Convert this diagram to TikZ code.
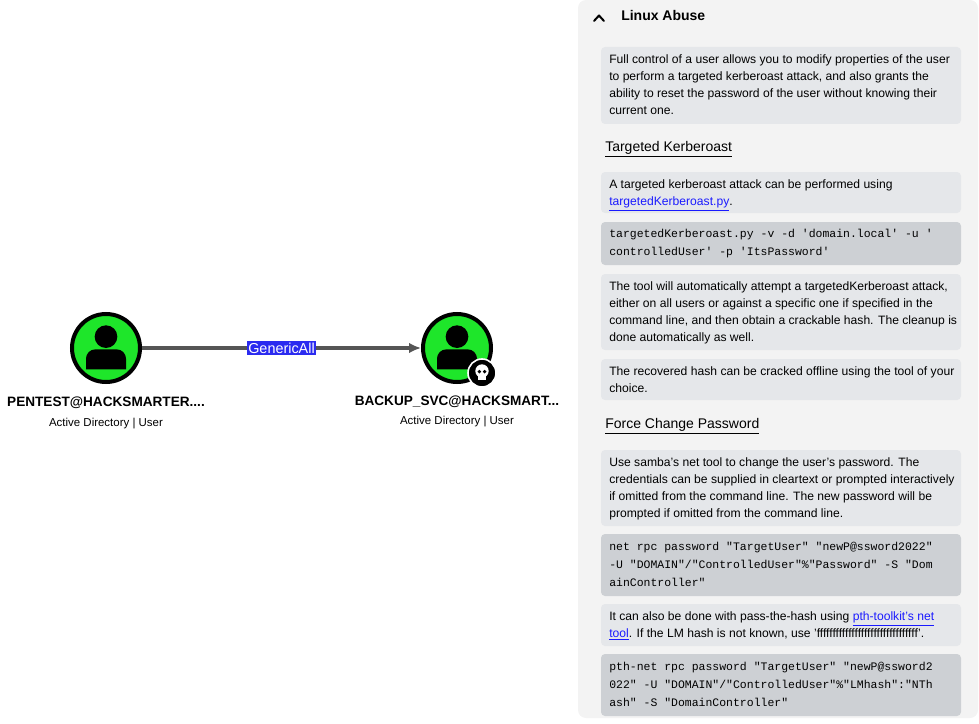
\documentclass[tikz,border=0pt]{standalone}
\usepackage{fontspec}
\setmainfont{Liberation Sans}
\setmonofont{Liberation Mono}
\usetikzlibrary{arrows.meta, positioning}
\definecolor{usergreen}{HTML}{1EE62A}
\definecolor{edgegray}{HTML}{555555}
\definecolor{labelblue}{HTML}{2B2BF0}
\definecolor{panelbg}{HTML}{F3F3F3}
\definecolor{textbg}{HTML}{E5E7EA}
\definecolor{codebg}{HTML}{CDD0D4}
\definecolor{linkblue}{HTML}{1A1AFF}
\newcommand{\weblink}[1]{\textcolor{linkblue}{\underline{#1}}}
\begin{document}
\begin{tikzpicture}[
    x=0.75pt, y=-0.75pt,
    >=Latex,
    user/.style={
      circle,
      draw=black,
      line width=3pt,
      fill=usergreen,
      minimum size=51pt,
      inner sep=0pt
    },
    badge/.style={
      circle,
      draw=white,
      line width=1.2pt,
      fill=black,
      minimum size=21pt,
      inner sep=0pt
    },
    username/.style={font=\fontsize{10.2}{12}\selectfont\bfseries},
    usertype/.style={font=\fontsize{8.6}{10}\selectfont},
    textbox/.style={fill=textbg, rounded corners=3pt},
    codebox/.style={fill=codebg, rounded corners=3pt},
    % base anchor sits on the last line
    para/.style={anchor=base west, align=left, inner sep=0pt,
      font=\fontsize{9.1}{12.75}\selectfont},
    code/.style={anchor=base west, align=left, inner sep=0pt,
      font=\fontsize{8.6}{13.5}\selectfont\ttfamily},
    heading/.style={anchor=base west, inner sep=0pt,
      font=\fontsize{10.5}{12}\selectfont}
]
\useasboundingbox (0,0) rectangle (979,724);

% graph
\node[user] (pentest) at (106,348) {};
\node[user] (backup) at (457,348) {};
\foreach \u in {pentest, backup} {
  \fill[black] ([yshift=8.5pt]\u.center) circle (8.5pt);
  \fill[black] ([xshift=-15pt,yshift=-16pt]\u.center) -- ([xshift=-15pt,yshift=-8pt]\u.center)
    arc[start angle=180, end angle=90, radius=7pt] -- ++(16pt,0)
    arc[start angle=90, end angle=0, radius=7pt] -- ([xshift=15pt,yshift=-16pt]\u.center) -- cycle;
}
\node[badge] (skull) at (482,373) {};
\fill[white] ([yshift=1.5pt]skull.center) circle (5pt);
\fill[white] ([xshift=-3pt,yshift=-5.5pt]skull.center) rectangle ([xshift=3pt,yshift=-1pt]skull.center);
\fill[black] ([xshift=-2pt,yshift=1pt]skull.center) circle (1.4pt);
\fill[black] ([xshift=2pt,yshift=1pt]skull.center) circle (1.4pt);

\node[username, below=6pt of pentest] (pentestname) {PENTEST@HACKSMARTER....};
\node[usertype, below=0pt of pentestname] (pentesttype) {Active Directory | User};
\node[username, below=5pt of backup] (backupname) {BACKUP\_SVC@HACKSMART...};
\node[usertype, below=0pt of backupname] (backuptype) {Active Directory | User};

\draw[-{Latex[length=9pt,width=8pt]}, edgegray, line width=2.3pt] (pentest) -- node[fill=labelblue, text=white,
  inner sep=1pt, font=\fontsize{10.8}{12}\selectfont] (edgelabel) {GenericAll} (backup);

% side panel
\fill[panelbg, rounded corners=6pt] (578,0) rectangle (978,718);
\draw[line width=1.5pt, line cap=round, line join=round] (594,21) -- (599,15.5) -- (604,21);
\node[heading, font=\fontsize{10.5}{12}\selectfont\bfseries] (title) at (621,21) {Linux Abuse};

\fill[textbox] (601,47) rectangle (961,124);
\node[para] (intro) at (609,114.5) {Full control of a user allows you to modify properties of the user\\
to perform a targeted kerberoast attack, and also grants the\\
ability to reset the password of the user without knowing their\\
current one.};

\node[heading] (kerbtitle) at (605,151.5) {\underline{Targeted Kerberoast}};

\fill[textbox] (601,172) rectangle (961,213);
\node[para] (kerbtext) at (609,205.5) {A targeted kerberoast attack can be performed using\\
\weblink{targetedKerberoast.py}.};

\fill[codebox] (601,222) rectangle (961,265);
\node[code] (kerbcode) at (609,255.5) {targetedKerberoast.py -v -d 'domain.local' -u '\\
controlledUser' -p 'ItsPassword'};

\fill[textbox] (601,274) rectangle (961,350);
\node[para] (kerbinfo) at (609,341.5) {The tool will automatically attempt a targetedKerberoast attack,\\
either on all users or against a specific one if specified in the\\
command line, and then obtain a crackable hash. The cleanup is\\
done automatically as well.};

\fill[textbox] (601,359) rectangle (961,400);
\node[para] (kerbcrack) at (609,392.5) {The recovered hash can be cracked offline using the tool of your\\
choice.};

\node[heading] (pwdtitle) at (605,428.5) {\underline{Force Change Password}};

\fill[textbox] (601,450) rectangle (961,526);
\node[para] (pwdtext) at (609,517.5) {Use samba's net tool to change the user's password. The\\
credentials can be supplied in cleartext or prompted interactively\\
if omitted from the command line. The new password will be\\
prompted if omitted from the command line.};

\fill[codebox] (601,534) rectangle (961,596);
\node[code] (pwdcode) at (609,586.5) {net rpc password "TargetUser" "newP@ssword2022"\\
-U "DOMAIN"/"ControlledUser"\%"Password" -S "Dom\\
ainController"};

\fill[textbox] (601,604) rectangle (961,646);
\node[para] (pthtext) at (609,637.5) {It can also be done with pass-the-hash using \weblink{pth-toolkit's net}\\
\weblink{tool}. If the LM hash is not known, use 'ffffffffffffffffffffffffffffffff'.};

\fill[codebox] (601,654) rectangle (961,716);
\node[code] (pthcode) at (609,706.5) {pth-net rpc password "TargetUser" "newP@ssword2\\
022" -U "DOMAIN"/"ControlledUser"\%"LMhash":"NTh\\
ash" -S "DomainController"};
\end{tikzpicture}
\end{document}
